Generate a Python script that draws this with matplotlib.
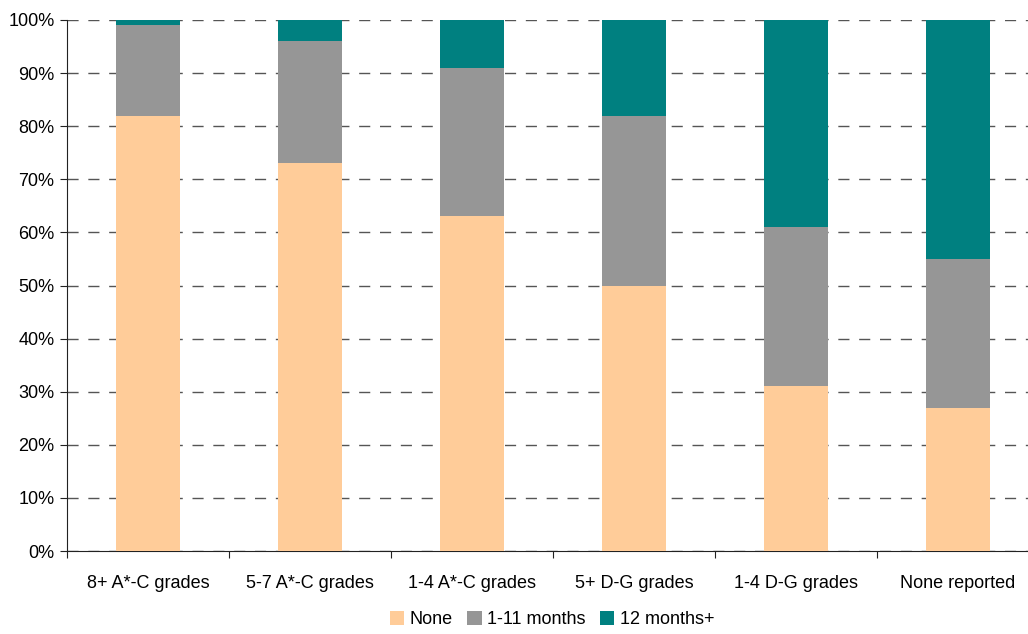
import matplotlib
matplotlib.use('Agg')
import matplotlib.pyplot as plt
import numpy as np

plt.rcParams['font.family'] = ['Liberation Sans Narrow', 'Liberation Sans', 'DejaVu Sans']

categories = ['8+ A*-C grades', '5-7 A*-C grades', '1-4 A*-C grades',
              '5+ D-G grades', '1-4 D-G grades', 'None reported']
none_pct = [82, 73, 63, 50, 31, 27]
short_pct = [17, 23, 28, 32, 30, 28]
long_pct = [1, 4, 9, 18, 39, 45]
series_names = ['None', '1-11 months', '12 months+']
colors = ['#FFCC99', '#969696', '#008080']

fig = plt.figure(figsize=(10.28, 6.34), dpi=100)
ax = fig.add_axes([67 / 1028, 83 / 634, 972 / 1028, 531 / 634])

x = np.arange(len(categories))
bottom = np.zeros(len(categories))
for vals, name, c in zip([none_pct, short_pct, long_pct], series_names, colors):
    ax.bar(x, vals, width=0.4, bottom=bottom, color=c, label=name, zorder=3)
    bottom += np.array(vals)

ax.set_xlim(-0.5, len(categories) - 0.5)
ax.set_ylim(0, 100)
ax.set_yticks(range(0, 101, 10))
ax.set_yticklabels([f'{v}%' for v in range(0, 101, 10)], fontsize=13)
ax.yaxis.grid(True, linestyle=(0, (8, 7)), color='#555555', linewidth=1, zorder=0)

ax.set_xticks(np.arange(-0.5, len(categories), 1))
ax.set_xticklabels([])
ax.set_xticks(x, minor=True)
ax.set_xticklabels(categories, minor=True, fontsize=13)
ax.tick_params(axis='x', which='minor', length=0, pad=17)
ax.tick_params(axis='x', which='major', length=5, direction='out', color='#222222')
ax.tick_params(axis='y', length=5, direction='out', color='#222222', pad=4)

for s in ['top', 'right']:
    ax.spines[s].set_visible(False)
ax.spines['left'].set_color('#222222')
ax.spines['bottom'].set_color('#222222')

fig.legend(loc='lower center', bbox_to_anchor=(552 / 1028, -0.016), ncol=3,
           frameon=False, fontsize=13, handlelength=0.8, handleheight=0.8,
           handletextpad=0.3, columnspacing=0.8)

fig.savefig('out.png', dpi=100)
